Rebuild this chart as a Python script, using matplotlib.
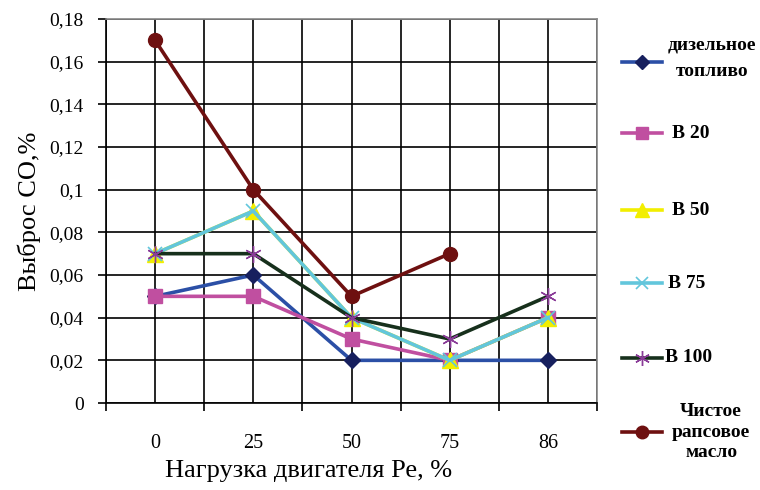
import numpy as np
import matplotlib
matplotlib.use("Agg")
import matplotlib.pyplot as plt
from matplotlib.lines import Line2D

plt.rcParams['font.family'] = ['Liberation Serif', 'DejaVu Serif']

# data
loads = ['0', '25', '50', '75', '86']
diesel = [0.05, 0.06, 0.02, 0.02, 0.02]
b20 = [0.05, 0.05, 0.03, 0.02, 0.04]
b50 = [0.07, 0.09, 0.04, 0.02, 0.04]
b75 = [0.07, 0.09, 0.04, 0.02, 0.04]
b100 = [0.07, 0.07, 0.04, 0.03, 0.05]
rapeseed = [0.17, 0.10, 0.05, 0.07, np.nan]

names = ['дизельное\nтопливо', 'В 20', 'В 50', 'В 75', 'В 100', 'Чистое\nрапсовое\nмасло']
series = [diesel, b20, b50, b75, b100, rapeseed]

# styles
styles = [
    dict(color='#2b4fa6', marker='D', ms=8, mfc='#17205e', mec='#17205e'),
    dict(color='#c04fa0', marker='s', ms=10, mfc='#c04fa0', mec='#c04fa0'),
    dict(color='#f2ee00', marker='^', ms=11, mfc='#f2ee00', mec='#f2ee00'),
    dict(color='#62c6dc', marker='x', ms=10, mfc='#62c6dc', mec='#62c6dc', mew=1.2),
    dict(color='#17301c', marker=(6, 2, 0), ms=12, mfc='#8a3c98', mec='#8a3c98', mew=1.0),
    dict(color='#6e1010', marker='o', ms=10, mfc='#6e1010', mec='#6e1010'),
]

fig = plt.figure(figsize=(7.6, 4.9), dpi=100)
ax = fig.add_axes([106 / 760, 1 - 403 / 490, (597 - 106) / 760, (403 - 19) / 490])

x = np.arange(len(loads))
for vals, st in zip(series, styles):
    ax.plot(x, vals, lw=2.6, zorder=3, **st)

# axes setup
ax.set_xlim(-0.5, len(loads) - 0.5)
ax.set_ylim(0, 0.18)
yt = np.arange(0, 0.181, 0.02)
ax.set_yticks(yt)
ax.set_yticklabels(['0' if v == 0 else ('%.2f' % v).rstrip('0').replace('.', ',') for v in yt])
ax.set_xticks(np.arange(-0.5, len(loads), 1.0))
ax.set_xticklabels([])
ax.set_xticks(x, minor=True)
ax.set_xticklabels(loads, minor=True)
ax.tick_params(axis='x', which='major', direction='out', length=6, width=1.2, color='black')
ax.tick_params(axis='x', which='minor', length=0, pad=22, labelsize=14.5)
ax.tick_params(axis='y', direction='out', length=6, width=1.2, pad=10, labelsize=14)

ax.grid(True, which='major', axis='y', color='black', lw=1.2)
for xv in np.arange(-0.5, len(loads), 0.5):
    ax.axvline(xv, color='black', lw=1.2, zorder=1)
for s in ax.spines.values():
    s.set_linewidth(1.2)
ax.spines['top'].set_color('#888888')
ax.spines['right'].set_color('#888888')

ax.set_ylabel('Выброс CO,%', fontsize=19, labelpad=6)
fig.text(309 / 760, 1 - 471 / 490, 'Нагрузка двигателя Ре, %', fontsize=19, ha='center', va='center')

# legend on the right
leg_y = [62, 133, 210, 283, 358, 432]
leg_text_y = [58, 133, 210, 283, 358, 432]
leg_tx = [668, 672, 672, 668, 665, 672]
leg_ls = [1.7, 1.2, 1.2, 1.2, 1.2, 1.3]
for name, st, ly, ty, tx, ls in zip(names, styles, leg_y, leg_text_y, leg_tx, leg_ls):
    yy = 1 - ly / 490
    fig.add_artist(Line2D([622 / 760, 662 / 760], [yy, yy], transform=fig.transFigure,
                          lw=2.6, color=st['color']))
    fig.add_artist(Line2D([642 / 760], [yy], transform=fig.transFigure, lw=0,
                          marker=st['marker'], ms=st['ms'] * 0.9, mfc=st['mfc'], mec=st['mec'],
                          mew=st.get('mew', 1.0)))
    fig.text(tx / 760, 1 - ty / 490, name, fontsize=14, fontweight='bold', ha='left', va='center',
             multialignment='center', linespacing=ls)

fig.savefig('out.png', dpi=100)
